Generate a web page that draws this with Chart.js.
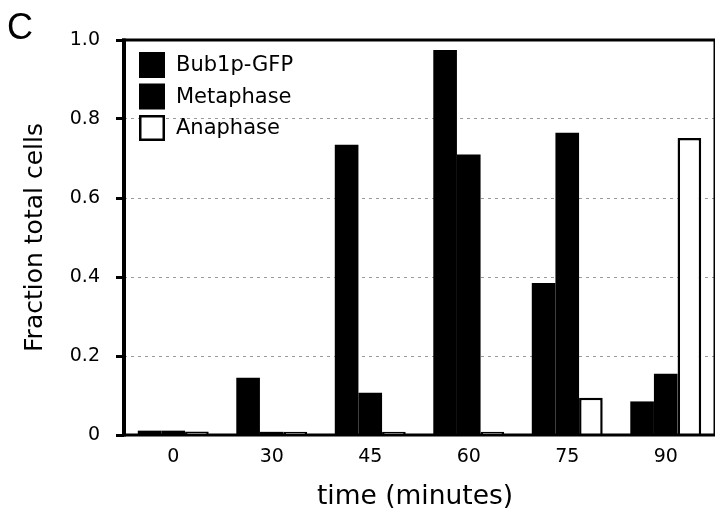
<!DOCTYPE html>
<html>
<head>
<meta charset="utf-8">
<script src="https://cdn.jsdelivr.net/npm/chart.js@4/dist/chart.umd.min.js"></script>
<style>
  html, body { margin: 0; padding: 0; background: #fff; }
  #wrap { position: relative; width: 716px; height: 514px; }
  canvas { display: block; }
</style>
</head>
<body>
<div id="wrap"><canvas id="c" width="716" height="514"></canvas></div>
<script>
// Time points (minutes) and the fraction of cells in each class
const categories = ['0', '30', '45', '60', '75', '90'];
const bub1 = [0.011, 0.145, 0.735, 0.975, 0.385, 0.085];
const metaphase = [0.011, 0.008, 0.107, 0.710, 0.765, 0.155];
const anaphase = [0.009, 0.008, 0.008, 0.008, 0.094, 0.752];
const seriesNames = ['Bub1p-GFP', 'Metaphase', 'Anaphase'];
const yTicks = [0, 0.2, 0.4, 0.6, 0.8, 1.0];
const xTitle = 'time (minutes)';
const yTitle = 'Fraction total cells';

const FONT = "'DejaVu Sans', Verdana, sans-serif";

// Frame around the plot: heavy left/bottom/top lines, thin right line
const framePlugin = {
  id: 'frame',
  afterDatasetsDraw(chart) {
    const { ctx, chartArea: a } = chart;
    ctx.save();
    ctx.strokeStyle = '#000';
    ctx.lineCap = 'butt';
    ctx.lineWidth = 3;
    ctx.beginPath(); ctx.moveTo(a.left - 2, a.top); ctx.lineTo(a.right, a.top); ctx.stroke();
    ctx.beginPath(); ctx.moveTo(a.left - 2, a.bottom); ctx.lineTo(a.right, a.bottom); ctx.stroke();
    ctx.lineWidth = 4;
    ctx.beginPath(); ctx.moveTo(a.left, a.top - 1.5); ctx.lineTo(a.left, a.bottom + 1.5); ctx.stroke();
    ctx.lineWidth = 1.5;
    ctx.beginPath(); ctx.moveTo(a.right - 0.75, a.top); ctx.lineTo(a.right - 0.75, a.bottom); ctx.stroke();
    ctx.restore();
  }
};

// Legend drawn inside the plot, top-left corner
const innerLegend = {
  id: 'innerLegend',
  afterDraw(chart) {
    const { ctx, chartArea: a } = chart;
    ctx.save();
    ctx.font = '21px ' + FONT;
    ctx.textBaseline = 'middle';
    ctx.textAlign = 'left';
    chart.data.datasets.forEach((ds, i) => {
      const x = a.left + 15;
      const y = a.top + 12 + i * 31.5;
      if (ds.backgroundColor === '#000') {
        ctx.fillStyle = '#000';
        ctx.fillRect(x, y, 26, 26);
      } else {
        ctx.fillStyle = '#fff';
        ctx.fillRect(x, y, 26, 26);
        ctx.strokeStyle = '#000';
        ctx.lineWidth = 2.5;
        ctx.strokeRect(x + 1.25, y + 1.25, 23.5, 23.5);
      }
      ctx.fillStyle = '#000';
      ctx.fillText(ds.label, x + 37, y + 14);
    });
    ctx.restore();
  }
};

// Panel letter and the x-axis caption
const extraText = {
  id: 'extraText',
  afterDraw(chart) {
    const ctx = chart.ctx;
    ctx.save();
    ctx.fillStyle = '#000';
    ctx.textBaseline = 'alphabetic';
    ctx.textAlign = 'left';
    ctx.font = '36px "Liberation Sans", Arial, sans-serif';
    ctx.fillText('C', 7, 39);
    ctx.textAlign = 'center';
    ctx.font = '26.5px ' + FONT;
    ctx.fillText(xTitle, 415, 504);
    ctx.restore();
  }
};

new Chart(document.getElementById('c'), {
  type: 'bar',
  data: {
    labels: categories,
    datasets: [
      { label: seriesNames[0], data: bub1, backgroundColor: '#000', borderWidth: 0 },
      { label: seriesNames[1], data: metaphase, backgroundColor: '#000', borderWidth: 0 },
      { label: seriesNames[2], data: anaphase, backgroundColor: '#fff', borderColor: '#000', borderWidth: 2.5 }
    ]
  },
  options: {
    responsive: false,
    animation: false,
    devicePixelRatio: 1,
    layout: { padding: { left: 0, top: 40, right: 1, bottom: 0 } },
    datasets: { bar: { categoryPercentage: 0.72, barPercentage: 1.0 } },
    plugins: { legend: { display: false }, tooltip: { enabled: false } },
    scales: {
      x: {
        grid: { display: false, drawTicks: false },
        border: { display: false },
        ticks: { color: '#000', font: { family: FONT, size: 19 }, padding: 11 },
        title: { display: false },
        afterFit(scale) { scale.height = 79; }
      },
      y: {
        min: 0, max: 1,
        afterBuildTicks(scale) { scale.ticks = yTicks.map(v => ({ value: v })); },
        grid: {
          drawTicks: true,
          tickLength: 8,
          tickWidth: 3,
          tickColor: '#000',
          tickBorderDash: [],
          lineWidth: 1,
          color: (c) => (c.tick && (c.tick.value === 0 || c.tick.value === 1)) ? 'rgba(0,0,0,0)' : '#9a9a9a'
        },
        border: { display: false, dash: [3, 4] },
        ticks: {
          color: '#000',
          font: { family: FONT, size: 19 },
          padding: 16,
          callback: (v) => v === 0 ? '0' : Number(v).toFixed(1)
        },
        title: { display: true, text: yTitle, color: '#000', font: { family: FONT, size: 25 }, padding: { top: 20, bottom: 0 } },
        afterFit(scale) { scale.width = 124; }
      }
    }
  },
  plugins: [framePlugin, innerLegend, extraText]
});
</script>
</body>
</html>
